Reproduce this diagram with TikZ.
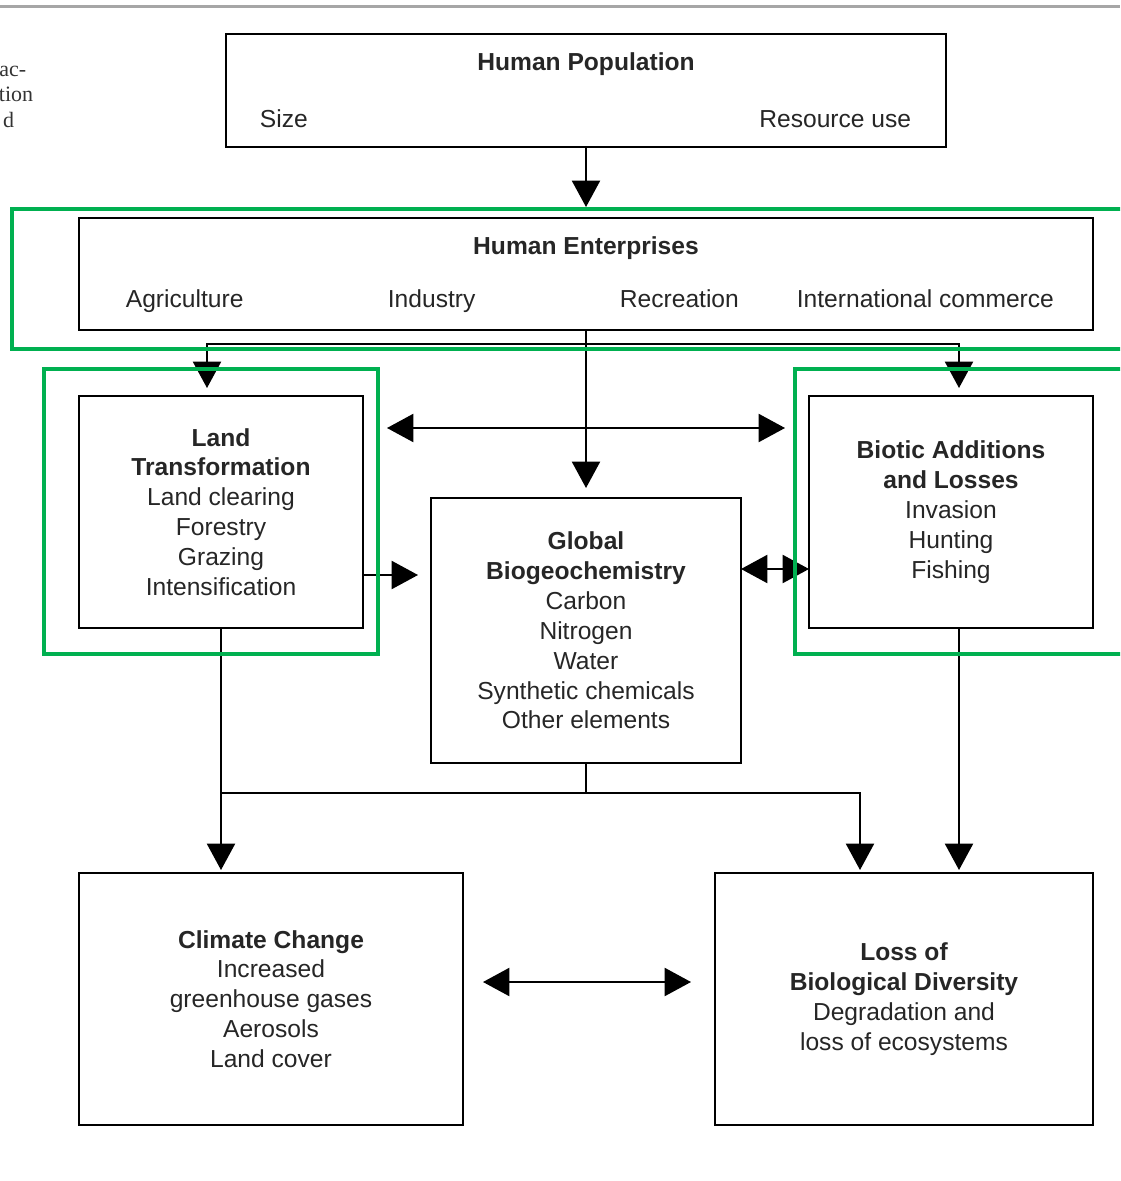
\documentclass[tikz,border=0pt]{standalone}
\usepackage{fontspec}
\setmainfont{Liberation Sans}
\newfontfamily\bookfont{Liberation Serif}
\usetikzlibrary{positioning,arrows.meta}
\definecolor{markgreen}{RGB}{0,176,80}

\begin{document}
\begin{tikzpicture}[-,auto,node distance=1cm,line width=1pt,
    box node/.style={rectangle,draw,inner sep=0pt,outer sep=0pt,align=center,text=black!85,
                     font=\fontsize{14}{17}\selectfont},
    label node/.style={inner sep=0pt,text=black!85,font=\fontsize{14}{17}\selectfont},
    title node/.style={label node,font=\fontsize{14}{17}\selectfont\bfseries},
    side node/.style={inner sep=0pt,anchor=base east,text=black!80,
                      font=\bookfont\fontsize{12.5}{15}\selectfont},
    link/.style={-{Triangle[width=16pt,length=15pt]}},
    twoway/.style={{Triangle[width=16pt,length=15pt]}-{Triangle[width=16pt,length=15pt]}},
    mark box/.style={draw=markgreen,line width=2.4pt}]

  \path[use as bounding box,clip] (0,0) rectangle (22.4,-23.62);

  \draw[black!35,line width=1.2pt] (0,-0.13) -- (22.4,-0.13);
  \node[side node] (sidea) at (0.54,-1.54) {ac-};
  \node[side node] (sideb) at (0.68,-2.04) {tion};
  \node[side node] (sidec) at (0.30,-2.56) {d};

  \node[box node,minimum width=14.4cm,minimum height=2.26cm] (pop) at (11.72,-1.81) {};
  \node[box node,minimum width=20.28cm,minimum height=2.24cm] (ent) [below=1.42cm of pop] {};
  \node[box node,minimum width=5.68cm,minimum height=4.64cm] (land)
       [below=1.32cm of ent.south west,anchor=north west]
       {\textbf{Land}\\\textbf{Transformation}\\Land clearing\\Forestry\\Grazing\\Intensification};
  \node[box node,minimum width=5.68cm,minimum height=4.64cm] (bio)
       [below=1.32cm of ent.south east,anchor=north east]
       {\textbf{Biotic Additions}\\\textbf{and Losses}\\Invasion\\Hunting\\Fishing};
  \node[box node,minimum width=6.2cm,minimum height=5.3cm] (glob) [below=3.36cm of ent]
       {\textbf{Global}\\\textbf{Biogeochemistry}\\Carbon\\Nitrogen\\Water\\Synthetic chemicals\\Other elements};
  \node[box node,minimum width=7.68cm,minimum height=5.04cm] (clim)
       [below=4.9cm of land.south west,anchor=north west]
       {\textbf{Climate Change}\\Increased\\greenhouse gases\\Aerosols\\Land cover};
  \node[box node,minimum width=7.56cm,minimum height=5.04cm] (loss)
       [below=4.9cm of bio.south east,anchor=north east]
       {\textbf{Loss of}\\\textbf{Biological Diversity}\\Degradation and\\loss of ecosystems};

  \node[title node,anchor=base] (poptitle) at ([yshift=-0.74cm]pop.north) {Human Population};
  \node[label node,anchor=base west] (popsize) at ([xshift=0.66cm,yshift=0.38cm]pop.south west) {Size};
  \node[label node,anchor=base east] (popuse) at ([xshift=-0.68cm,yshift=0.38cm]pop.south east) {Resource use};

  \node[title node,anchor=base] (enttitle) at ([yshift=-0.74cm]ent.north) {Human Enterprises};
  \node[label node,anchor=base west] (agri) at ([xshift=0.92cm,yshift=0.44cm]ent.south west) {Agriculture};
  \node[label node,anchor=base west] (indu) at ([xshift=6.16cm,yshift=0.44cm]ent.south west) {Industry};
  \node[label node,anchor=base west] (recr) at ([xshift=10.8cm,yshift=0.44cm]ent.south west) {Recreation};
  \node[label node,anchor=base west] (comm) at ([xshift=14.34cm,yshift=0.44cm]ent.south west) {International commerce};

  \path (pop) edge[link,shorten >=0.22cm] (ent)
        (ent) edge[link,shorten >=0.2cm] (glob);

  \coordinate (entfork) at ([yshift=-0.28cm]ent.south);
  \coordinate (landin) at ([xshift=-0.28cm]land.north);
  \coordinate (bioin) at ([xshift=0.16cm]bio.north);
  \draw[link,shorten >=0.16cm] (entfork) -| (landin);
  \draw[link,shorten >=0.16cm] (entfork) -| (bioin);

  \coordinate (landtop) at ([yshift=-0.64cm]land.north east);
  \draw[twoway,shorten <=0.48cm,shorten >=0.48cm] (landtop) -- (landtop -| bio.west);

  \coordinate (landout) at ([yshift=-1.26cm]land.east);
  \draw[link,shorten >=0.26cm] (landout) -- (landout -| glob.west);

  \coordinate (bioside) at ([yshift=-1.14cm]bio.west);
  \draw[twoway] (bioside -| glob.east) -- (bioside);

  \draw[link,shorten >=0.06cm] (land.south) -- (land.south |- clim.north);

  \coordinate (globfork) at ([yshift=-0.6cm]glob.south);
  \coordinate (lossin) at ([xshift=2.9cm]loss.north west);
  \draw (glob.south) -- (globfork);
  \draw[link,shorten >=0.06cm] (globfork -| land.south) -| (lossin);

  \coordinate (bioout) at ([xshift=0.16cm]bio.south);
  \draw[link,shorten >=0.06cm] (bioout) -- (bioout |- loss.north);

  \coordinate (climside) at ([yshift=0.34cm]clim.east);
  \draw[twoway,shorten <=0.4cm,shorten >=0.48cm] (climside) -- (climside -| loss.west);

  \draw[mark box] (0.24,-4.18) rectangle (22.6,-6.98);
  \draw[mark box] (0.88,-7.38) rectangle (7.56,-13.08);
  \draw[mark box] (15.9,-7.38) rectangle (22.6,-13.08);
\end{tikzpicture}
\end{document}
